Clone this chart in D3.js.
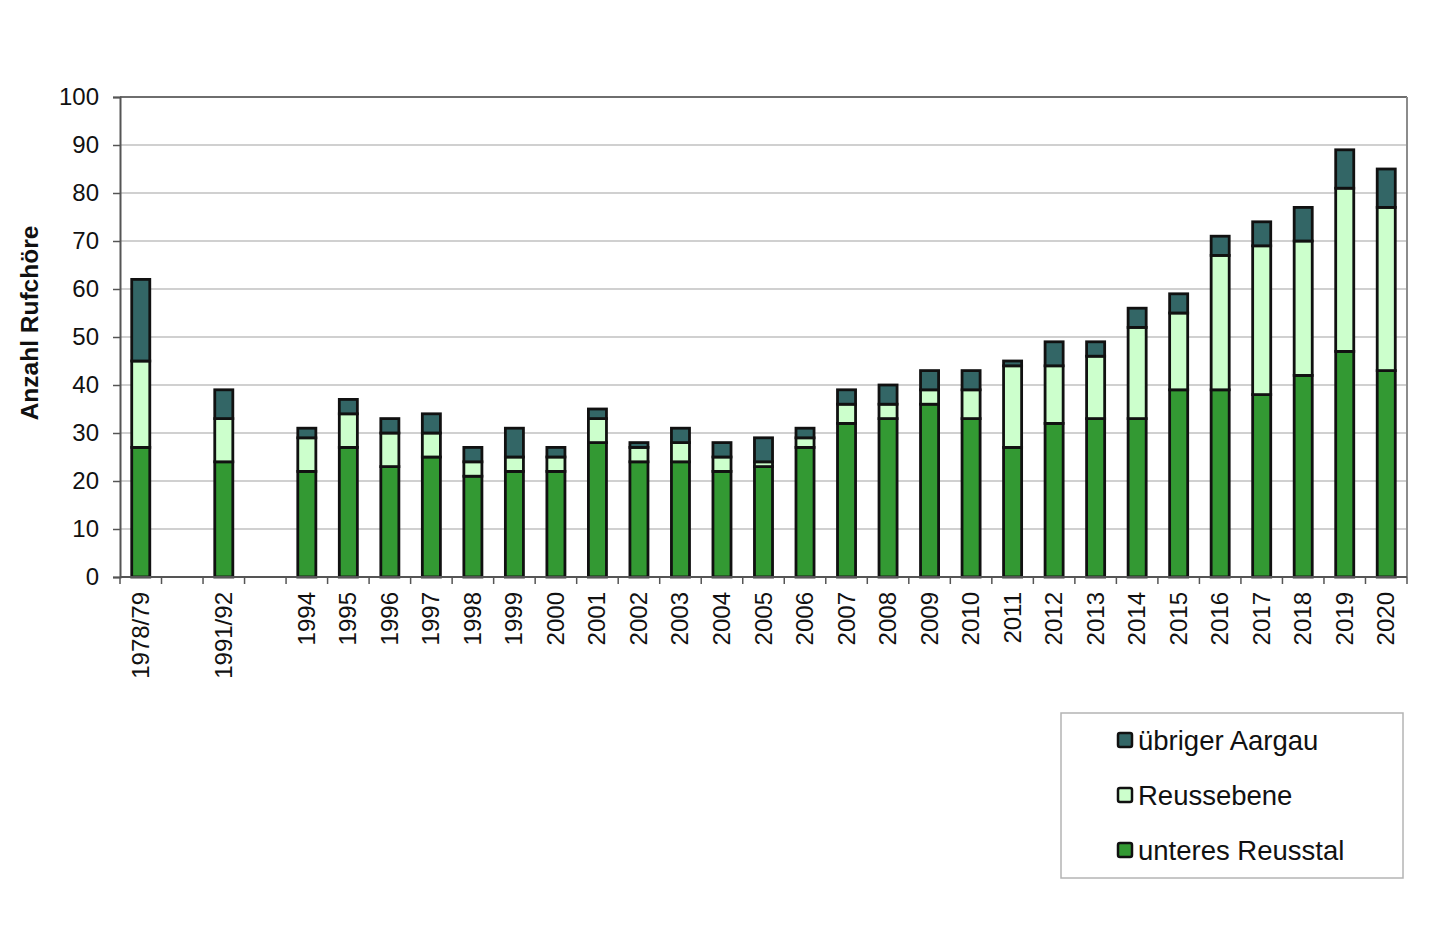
<!DOCTYPE html>
<html>
<head>
<meta charset="utf-8">
<script src="https://cdn.jsdelivr.net/npm/d3@7"></script>
<style>
  body { margin: 0; background: #fff; }
  svg { font-family: "Liberation Sans", Arial, sans-serif; }
</style>
</head>
<body>
<div id="chart"></div>
<script>
// categories (blank entries are the gaps in the original chart)
const categories = ["1978/79", "", "1991/92", " ", "1994", "1995", "1996", "1997", "1998", "1999",
  "2000", "2001", "2002", "2003", "2004", "2005", "2006", "2007", "2008", "2009", "2010",
  "2011", "2012", "2013", "2014", "2015", "2016", "2017", "2018", "2019", "2020"];

const unteresReusstal = [27, null, 24, null, 22, 27, 23, 25, 21, 22, 22, 28, 24, 24, 22, 23, 27,
  32, 33, 36, 33, 27, 32, 33, 33, 39, 39, 38, 42, 47, 43];
const reussebene = [18, null, 9, null, 7, 7, 7, 5, 3, 3, 3, 5, 3, 4, 3, 1, 2,
  4, 3, 3, 6, 17, 12, 13, 19, 16, 28, 31, 28, 34, 34];
const uebrigerAargau = [17, null, 6, null, 2, 3, 3, 4, 3, 6, 2, 2, 1, 3, 3, 5, 2,
  3, 4, 4, 4, 1, 5, 3, 4, 4, 4, 5, 7, 8, 8];

const seriesNames = ["unteres Reusstal", "Reussebene", "übriger Aargau"];
const seriesColors = ["#339933", "#ccffcc", "#336666"];
const yTicks = [0, 10, 20, 30, 40, 50, 60, 70, 80, 90, 100];

const W = 1440, H = 929;
const margin = { top: 97, left: 120, right: 33, bottom: 352 };
const width = W - margin.left - margin.right,
      height = H - margin.top - margin.bottom;

const svg = d3.select("#chart").append("svg")
    .attr("width", W).attr("height", H);

const g = svg.append("g")
    .attr("transform", "translate(" + margin.left + "," + margin.top + ")");

const x = d3.scaleBand().domain(categories).range([0, width]).paddingInner(0.565).paddingOuter(0.2825);
const y = d3.scaleLinear().domain([0, 100]).range([height, 0]);
const step = width / categories.length;

// gridlines
g.append("g").selectAll("line")
  .data(yTicks.slice(1, -1))
  .enter().append("line")
    .attr("x1", 0).attr("x2", width)
    .attr("y1", d => y(d)).attr("y2", d => y(d))
    .attr("stroke", "#c0c0c0").attr("stroke-width", 1.5);

// frame top / right
g.append("line").attr("x1", 0).attr("x2", width).attr("y1", 0).attr("y2", 0)
  .attr("stroke", "#6e6e6e").attr("stroke-width", 2);
g.append("line").attr("x1", width).attr("x2", width).attr("y1", 0).attr("y2", height)
  .attr("stroke", "#8c8c8c").attr("stroke-width", 2);

// stacked data
const rows = categories.map((c, i) => ({
  cat: c,
  "unteres Reusstal": unteresReusstal[i] || 0,
  "Reussebene": reussebene[i] || 0,
  "übriger Aargau": uebrigerAargau[i] || 0,
  empty: unteresReusstal[i] == null
}));
const stacked = d3.stack().keys(seriesNames)(rows);

g.selectAll(".serie")
  .data(stacked)
  .enter().append("g")
    .attr("class", "serie")
    .attr("fill", (d, i) => seriesColors[i])
  .selectAll("rect")
  .data(d => d.filter(p => !p.data.empty))
  .enter().append("rect")
    .attr("x", d => x(d.data.cat))
    .attr("width", x.bandwidth())
    .attr("y", d => y(d[1]))
    .attr("height", d => y(d[0]) - y(d[1]))
    .attr("stroke", "#111")
    .attr("stroke-width", 2.8);

// y axis
const yAxis = g.append("g")
  .call(d3.axisLeft(y).tickValues(yTicks).tickSize(7).tickPadding(14));
yAxis.select(".domain").attr("stroke", "#555").attr("stroke-width", 2);
yAxis.selectAll(".tick line").attr("stroke", "#555").attr("stroke-width", 1.5);
yAxis.selectAll(".tick text").attr("font-size", "24px").attr("fill", "#111")
  .attr("font-family", "Liberation Sans, Arial, sans-serif");

// x axis: ticks at slot boundaries
const xg = g.append("g").attr("transform", "translate(0," + height + ")");
xg.append("line").attr("x1", 0).attr("x2", width).attr("stroke", "#555").attr("stroke-width", 2);
xg.selectAll(".xt")
  .data(d3.range(categories.length + 1))
  .enter().append("line")
    .attr("x1", d => d * step).attr("x2", d => d * step)
    .attr("y1", 0).attr("y2", 7)
    .attr("stroke", "#555").attr("stroke-width", 1.5);
xg.selectAll(".xl")
  .data(categories.filter(c => c.trim() !== ""))
  .enter().append("text")
    .attr("transform", d => "translate(" + (x(d) + x.bandwidth() / 2 + 8) + ",15) rotate(-90)")
    .attr("text-anchor", "end")
    .attr("font-size", "24px")
    .attr("fill", "#111")
    .text(d => d);

// y title
svg.append("text")
  .attr("transform", "translate(38," + (margin.top + height / 2 - 14) + ") rotate(-90)")
  .attr("text-anchor", "middle")
  .attr("font-size", "24.5px")
  .attr("font-weight", "bold")
  .attr("fill", "#111")
  .text("Anzahl Rufchöre");

// legend
const legend = svg.append("g").attr("transform", "translate(1061,713)");
legend.append("rect").attr("width", 342).attr("height", 165)
  .attr("fill", "#fff").attr("stroke", "#b4b4b4").attr("stroke-width", 1.5);
const legendOrder = [2, 1, 0];
const li = legend.selectAll(".li")
  .data(legendOrder)
  .enter().append("g")
    .attr("transform", (d, i) => "translate(57," + (27 + i * 55) + ")");
li.append("rect")
  .attr("x", 0).attr("y", -7).attr("width", 14).attr("height", 14).attr("rx", 2)
  .attr("fill", d => seriesColors[d]).attr("stroke", "#111").attr("stroke-width", 2.5);
li.append("text")
  .attr("x", 20).attr("y", 10)
  .attr("font-size", "27.5px").attr("fill", "#111")
  .text(d => seriesNames[d]);
</script>
</body>
</html>
